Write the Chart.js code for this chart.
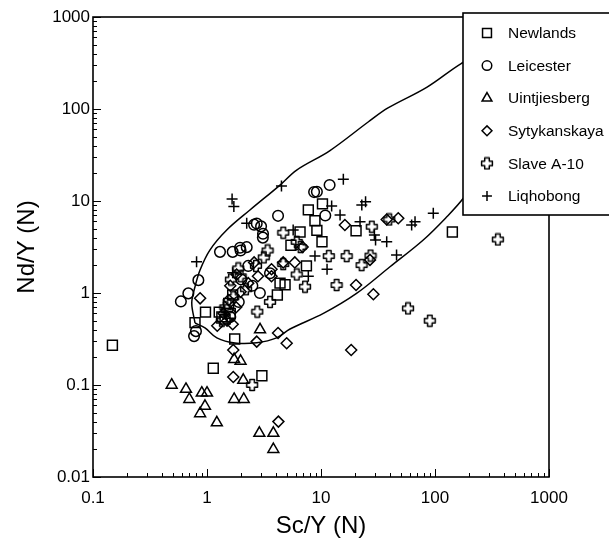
<!DOCTYPE html>
<html>
<head>
<meta charset="utf-8">
<script src="https://cdn.jsdelivr.net/npm/chart.js@4.4.1/dist/chart.umd.min.js"></script>
<style>
  html, body { margin: 0; padding: 0; background: #fff; }
  #wrap { width: 609px; height: 541px; }
</style>
</head>
<body>
<div id="wrap"><canvas id="ndsc" width="609" height="541"></canvas></div>
<script>
// ejes (escala log)
const xTicks = [0.1, 1, 10, 100, 1000];
const xTickLabels = ['0.1', '1', '10', '100', '1000'];
const yTicks = [0.01, 0.1, 1, 10, 100, 1000];
const yTickLabels = ['0.01', '0.1', '1', '10', '100', '1000'];

// Newlands
const nlX = [0.148, 0.785, 0.97, 1.135, 1.75, 3.03, 4.14, 4.84, 4.37, 6.55, 5.45, 7.45, 7.74, 10.3, 8.85, 9.2, 10.2, 20.3, 142, 1.28, 1.55, 1.68, 1.44, 1.35, 1.6];
const nlY = [0.27, 0.477, 0.62, 0.152, 0.316, 0.126, 0.95, 1.23, 1.28, 4.6, 3.3, 1.97, 8.0, 9.3, 6.1, 4.8, 3.6, 4.75, 4.6, 0.62, 0.77, 0.95, 0.52, 0.55, 0.6];
// Leicester
const lcX = [0.59, 0.686, 0.84, 0.77, 0.80, 1.30, 1.68, 1.97, 2.23, 2.59, 2.98, 3.1, 3.09, 4.2, 8.7, 11.9, 10.9, 9.2, 2.91, 2.30, 2.73, 3.57, 1.95, 2.0, 2.5, 1.6, 1.9];
const lcY = [0.81, 0.99, 1.38, 0.34, 0.385, 2.8, 2.8, 2.9, 3.15, 5.53, 5.3, 4.4, 4.0, 6.9, 12.5, 14.9, 6.95, 12.6, 1.0, 1.97, 5.7, 1.64, 3.1, 1.4, 1.2, 0.55, 0.8];
// Uintjiesberg
const utX = [0.49, 0.654, 0.70, 0.90, 1.0, 0.96, 0.87, 1.22, 1.73, 1.97, 2.08, 1.73, 2.1, 2.88, 3.82, 3.82, 2.92];
const utY = [0.10, 0.09, 0.070, 0.082, 0.082, 0.059, 0.049, 0.039, 0.19, 0.182, 0.113, 0.070, 0.070, 0.030, 0.030, 0.020, 0.40];
// Sytykanskaya
const syX = [0.87, 1.70, 1.70, 2.73, 4.2, 5.0, 4.23, 18.4, 28.8, 20.3, 16.2, 26.9, 37.7, 47.6, 1.23, 1.68, 1.55, 1.97, 2.30, 2.8, 3.68, 2.59, 4.66, 6.9, 5.89, 1.82, 3.68, 1.4, 1.5, 1.8, 1.6];
const syY = [0.875, 0.24, 0.122, 0.296, 0.367, 0.284, 0.040, 0.240, 0.97, 1.22, 5.48, 2.29, 6.3, 6.5, 0.44, 0.457, 0.84, 1.03, 1.28, 1.52, 1.52, 2.15, 2.15, 3.16, 2.15, 1.59, 1.81, 0.6, 0.5, 0.7, 1.2];
// Slave A-10
const svX = [356, 58, 90, 13.7, 16.8, 11.7, 7.24, 6.12, 4.66, 3.57, 2.76, 2.49, 27.2, 22.7, 27.9, 39.7, 6.12, 6.62, 4.67, 3.40, 3.15, 1.97, 1.62, 2.69, 1.88, 2.2, 1.45, 1.5, 1.7, 1.35];
const svY = [3.82, 0.68, 0.50, 1.22, 2.52, 2.52, 1.17, 1.59, 2.06, 0.80, 0.627, 0.10, 2.55, 2.01, 5.25, 6.3, 3.6, 3.16, 4.52, 2.90, 2.44, 1.52, 1.40, 1.97, 1.85, 1.1, 0.7, 0.65, 0.9, 0.5];
// Liqhobong
const lqX = [0.81, 1.66, 1.72, 2.23, 4.5, 15.7, 12.4, 14.7, 22.8, 24.6, 22, 29.4, 30.1, 37.7, 46, 62.4, 66.8, 96.6, 8.85, 11.3, 5.7, 7.74, 1.68];
const lqY = [2.19, 10.5, 8.7, 5.73, 14.6, 17.2, 8.8, 7.05, 9.06, 9.8, 5.96, 4.28, 3.77, 3.6, 2.59, 5.48, 5.96, 7.35, 2.52, 1.81, 4.84, 1.52, 1.66];

// contorno del campo (cerrado)
const fieldX = [0.785, 0.96, 1.22, 1.76, 2.73, 4.08, 5.35, 10.5, 20.5, 40.3, 78.9, 127, 177, 302, 455, 557, 411, 275, 171, 84.5, 38.7, 26.1, 11.9, 6.12, 4.37, 2.38, 1.49, 1.06, 0.869, 0.785, 0.735, 0.785];
const fieldY = [0.472, 0.417, 0.325, 0.286, 0.288, 0.325, 0.406, 0.60, 0.99, 1.93, 3.77, 6.74, 10.7, 27.9, 76, 234, 417, 417, 314, 172, 102.6, 72.7, 35.1, 21.7, 14.9, 7.98, 4.84, 2.93, 1.78, 1.17, 0.778, 0.472];

const FONT = '"Liberation Sans", Arial, Helvetica, sans-serif';

const pts = (xs, ys) => xs.map((v, i) => ({ x: v, y: ys[i] }));

// cruz hueca para Slave A-10
function makeCrossIcon() {
    const c = document.createElement('canvas');
    c.width = 14; c.height = 14;
    const g = c.getContext('2d');
    const m = 7, w = 2.3, L = 5.4;
    g.strokeStyle = '#000';
    g.lineWidth = 1.5;
    g.lineJoin = 'round';
    g.beginPath();
    g.moveTo(m - w, m - L); g.lineTo(m + w, m - L); g.lineTo(m + w, m - w);
    g.lineTo(m + L, m - w); g.lineTo(m + L, m + w); g.lineTo(m + w, m + w);
    g.lineTo(m + w, m + L); g.lineTo(m - w, m + L); g.lineTo(m - w, m + w);
    g.lineTo(m - L, m + w); g.lineTo(m - L, m - w); g.lineTo(m - w, m - w);
    g.closePath();
    g.stroke();
    return c;
}
const crossIcon = makeCrossIcon();

function series(label, xs, ys, style, radius) {
    return {
        label: label,
        data: pts(xs, ys),
        pointStyle: style,
        pointRadius: radius,
        pointBorderWidth: 1.5,
        pointBorderColor: '#000',
        pointBackgroundColor: 'rgba(0,0,0,0)',
        showLine: false
    };
}

// marcos y ticks hacia adentro
const frameAndTicks = {
    id: 'frameAndTicks',
    afterDatasetsDraw(chart) {
        const { ctx, chartArea: a, scales: { x, y } } = chart;
        ctx.save();
        ctx.strokeStyle = '#000';
        ctx.lineWidth = 1;
        ctx.beginPath();
        xTicks.forEach((d, i) => {
            const last = i === xTicks.length - 1;
            for (let m = 1; m <= (last ? 1 : 9); m++) {
                const px = Math.round(x.getPixelForValue(d * m)) + 0.5;
                const len = m === 1 ? 8 : 4;
                ctx.moveTo(px, a.bottom);
                ctx.lineTo(px, a.bottom - len);
            }
        });
        yTicks.forEach((d, i) => {
            const last = i === yTicks.length - 1;
            for (let m = 1; m <= (last ? 1 : 9); m++) {
                const py = Math.round(y.getPixelForValue(d * m)) + 0.5;
                const len = m === 1 ? 8 : 4;
                ctx.moveTo(a.left, py);
                ctx.lineTo(a.left + len, py);
            }
        });
        ctx.stroke();
        ctx.lineWidth = 1.6;
        ctx.strokeRect(a.left, a.top, a.right - a.left, a.bottom - a.top);
        ctx.restore();
    }
};

// leyenda con recuadro encima del área
const boxLegend = {
    id: 'boxLegend',
    afterDraw(chart) {
        const ctx = chart.ctx;
        const bx = 463, by = 13, bw = 160, bh = 202;
        ctx.save();
        ctx.fillStyle = '#fff';
        ctx.fillRect(bx, by, bw, bh);
        ctx.strokeStyle = '#000';
        ctx.lineWidth = 1.6;
        ctx.strokeRect(bx, by, bw, bh);
        ctx.font = '15.5px ' + FONT;
        ctx.textBaseline = 'middle';
        let row = 0;
        chart.data.datasets.forEach(ds => {
            if (!ds.label) return;
            const cy = 33 + row * 32.6;
            ctx.strokeStyle = '#000';
            ctx.fillStyle = 'rgba(0,0,0,0)';
            ctx.lineWidth = 1.5;
            Chart.helpers.drawPoint(ctx, {
                pointStyle: ds.pointStyle,
                radius: ds.pointRadius * 0.9,
                rotation: 0,
                borderWidth: 1.5
            }, 487, cy);
            ctx.fillStyle = '#000';
            ctx.fillText(ds.label, 508, cy + 1);
            row++;
        });
        ctx.restore();
    }
};

const ctx = document.getElementById('ndsc').getContext('2d');

new Chart(ctx, {
    type: 'scatter',
    data: {
        datasets: [
            series('Newlands', nlX, nlY, 'rect', 7),
            series('Leicester', lcX, lcY, 'circle', 5.3),
            series('Uintjiesberg', utX, utY, 'triangle', 6.3),
            series('Sytykanskaya', syX, syY, 'rectRot', 5.5),
            series('Slave A-10', svX, svY, crossIcon, 6),
            series('Liqhobong', lqX, lqY, 'cross', 5.5),
            {
                label: '',
                data: pts(fieldX, fieldY),
                showLine: true,
                pointRadius: 0,
                borderColor: '#000',
                borderWidth: 1.5,
                tension: 0.35,
                fill: false
            }
        ]
    },
    options: {
        responsive: false,
        devicePixelRatio: 1,
        animation: false,
        layout: { padding: { top: 17, right: 60, left: 0, bottom: 0 } },
        plugins: {
            legend: { display: false },
            tooltip: { enabled: false }
        },
        scales: {
            x: {
                type: 'logarithmic',
                min: 0.1,
                max: 1000,
                afterBuildTicks: s => { s.ticks = xTicks.map(v => ({ value: v })); },
                afterFit: s => { s.height = 64; },
                grid: { display: false, drawTicks: false },
                border: { display: false },
                ticks: {
                    autoSkip: false,
                    maxRotation: 0,
                    padding: 11,
                    color: '#000',
                    font: { family: FONT, size: 17 },
                    callback: v => xTickLabels[xTicks.indexOf(v)]
                },
                title: {
                    display: true,
                    text: 'Sc/Y (N)',
                    color: '#000',
                    font: { family: FONT, size: 24 },
                    padding: { top: 0, bottom: 0 }
                }
            },
            y: {
                type: 'logarithmic',
                min: 0.01,
                max: 1000,
                afterBuildTicks: s => { s.ticks = yTicks.map(v => ({ value: v })); },
                afterFit: s => { s.width = 93; },
                grid: { display: false, drawTicks: false },
                border: { display: false },
                ticks: {
                    autoSkip: false,
                    padding: 3,
                    color: '#000',
                    font: { family: FONT, size: 17 },
                    callback: v => yTickLabels[yTicks.indexOf(v)]
                },
                title: {
                    display: true,
                    text: 'Nd/Y (N)',
                    color: '#000',
                    font: { family: FONT, size: 24 },
                    padding: { top: 13, bottom: 0 }
                }
            }
        }
    },
    plugins: [frameAndTicks, boxLegend]
});
</script>
</body>
</html>
